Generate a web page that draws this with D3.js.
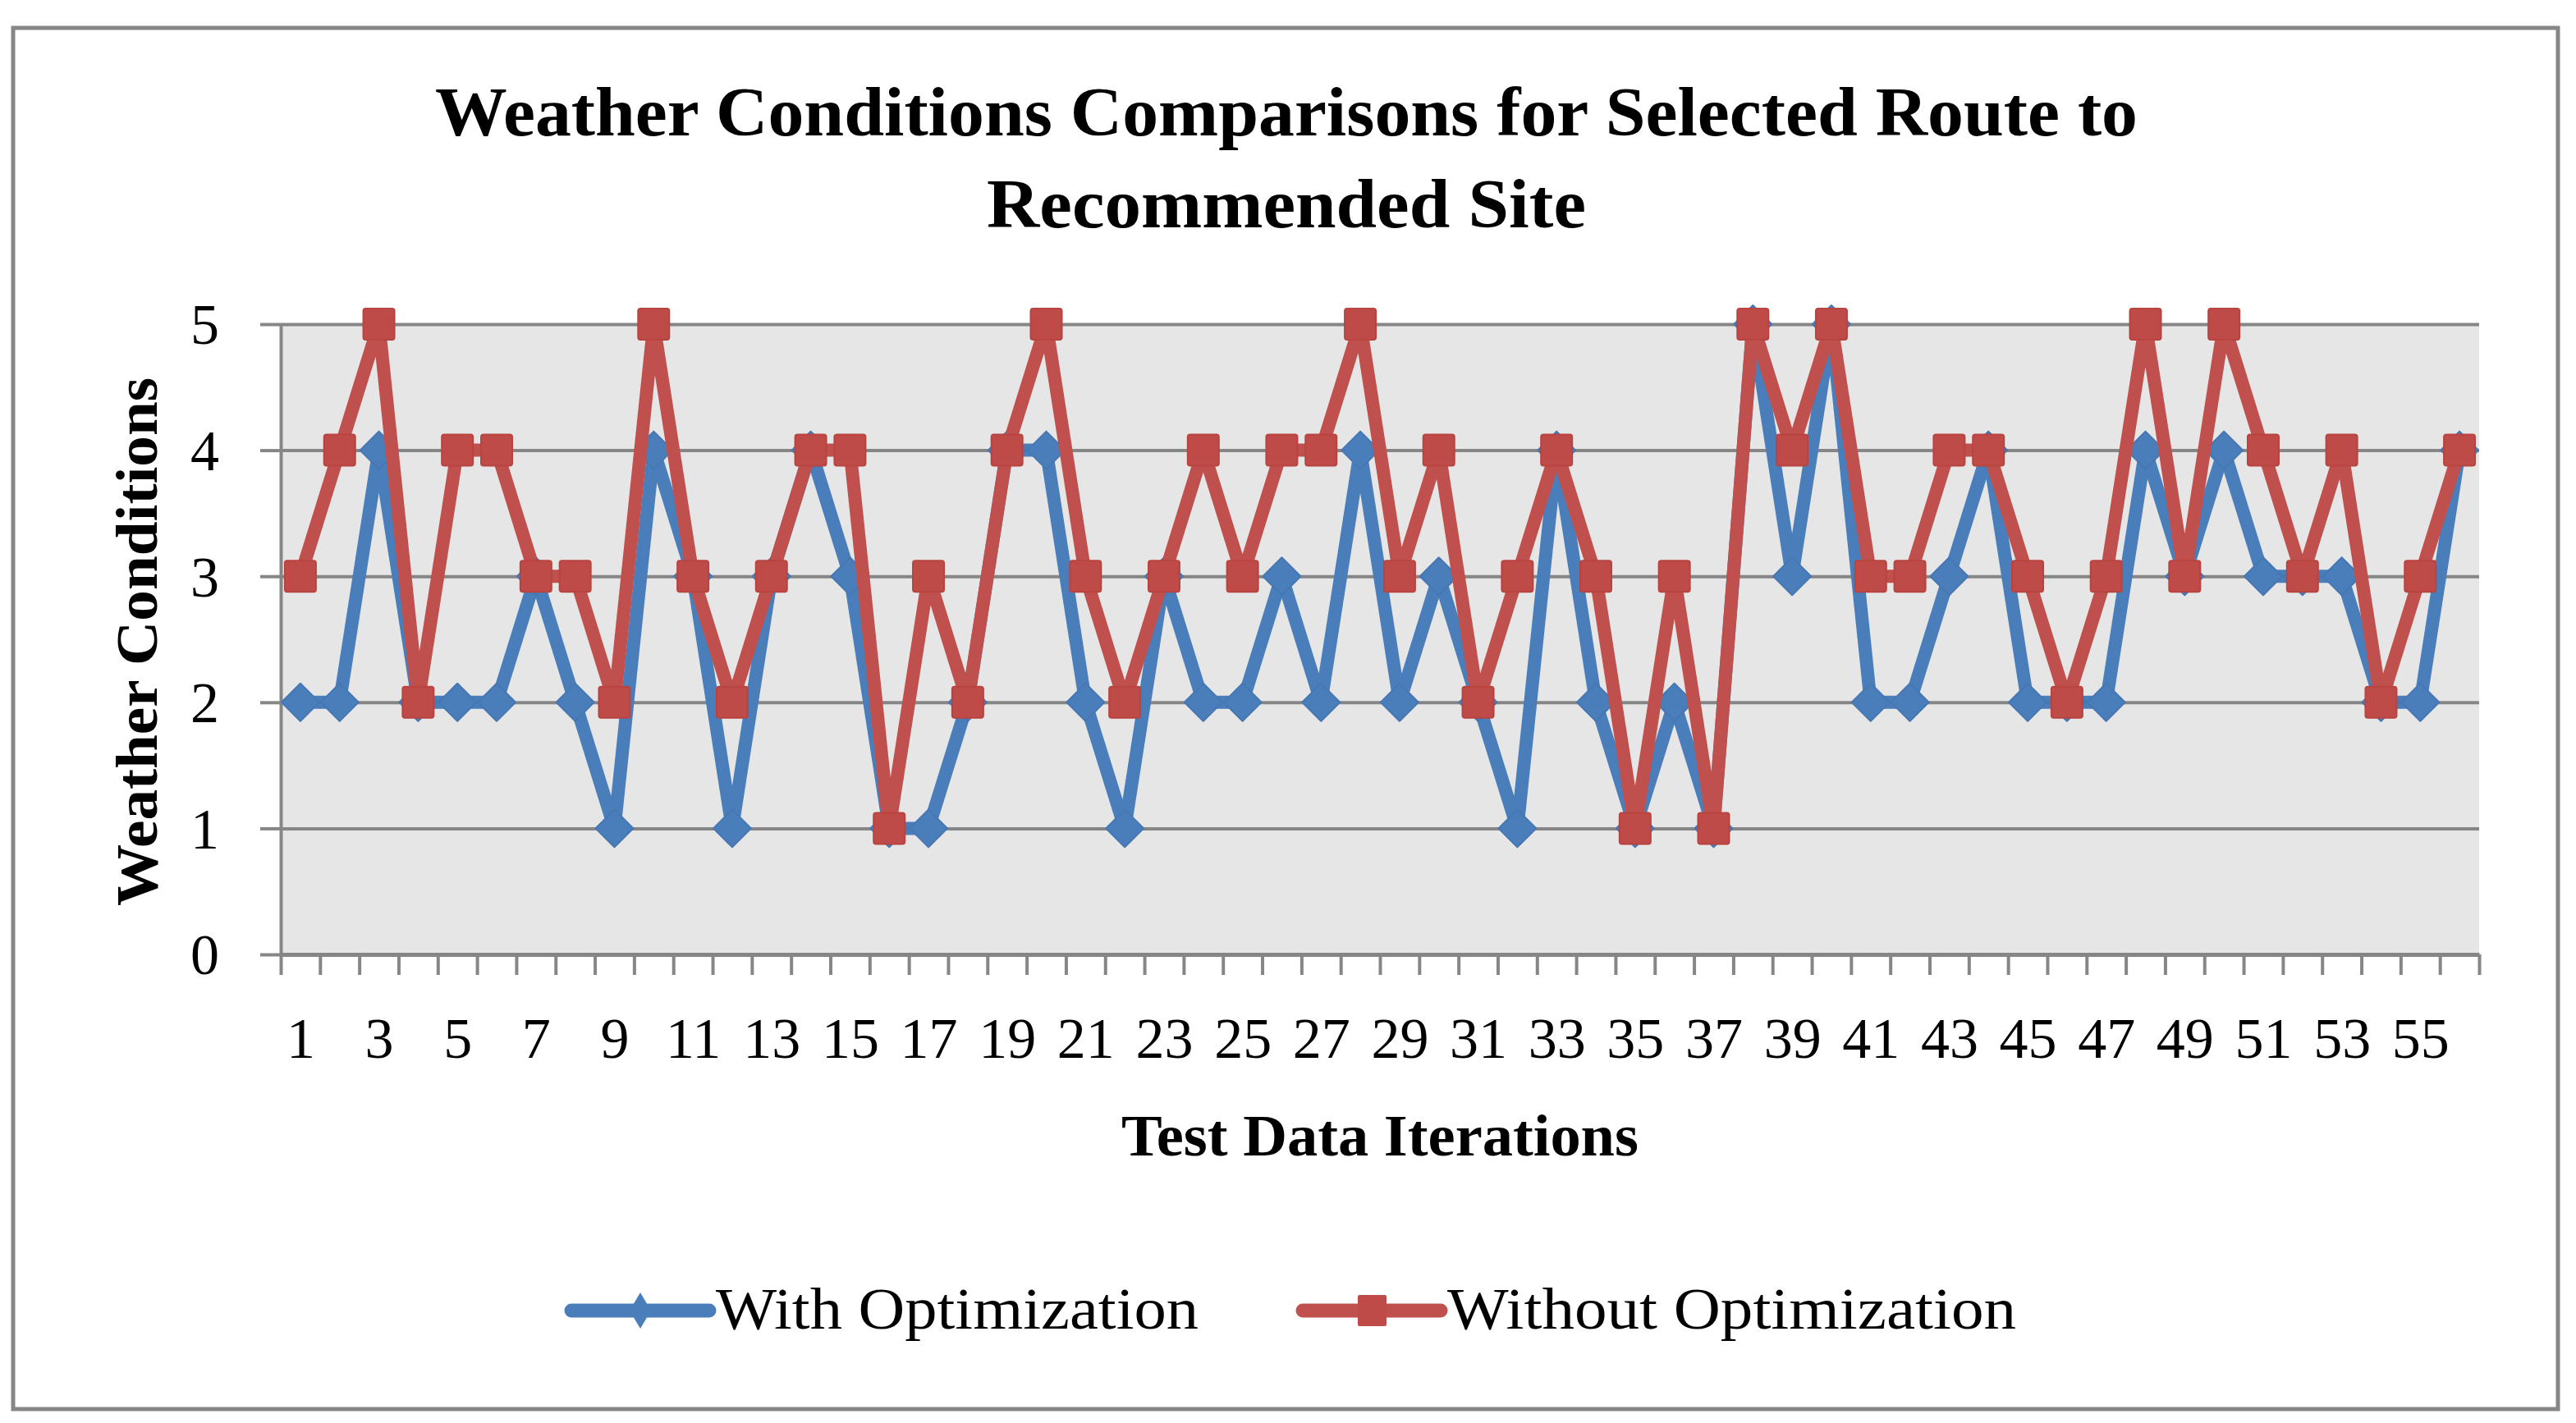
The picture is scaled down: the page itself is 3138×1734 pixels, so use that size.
<html>
<head>
	<title>Weather Conditions Comparisons</title>
	<style>
		body { margin: 0; background: #fff; }
		text { font-family: "Palatino Linotype", "Book Antiqua", Palatino, "Liberation Serif", serif; fill: #000; }
	</style>
</head>
<body>
<script src="https://cdn.jsdelivr.net/npm/d3@7/dist/d3.min.js"></script>
<div id="chart"></div>

<script>
	// data
	var iterations = d3.range(1, 57);
	var with_opt = [2,2,4,2,2,2,3,2,1,4,3,1,3,4,3,1,1,2,4,4,2,1,3,2,2,3,2,4,2,3,
		2,1,4,2,1,2,1,5,3,5,2,2,3,4,2,2,2,4,3,4,3,3,3,2,2,4];
	var without_opt = [3,4,5,2,4,4,3,3,2,5,3,2,3,4,4,1,3,2,4,5,3,2,3,4,3,4,4,5,3,4,
		2,3,4,3,1,3,1,5,4,5,3,3,4,4,3,2,3,5,3,5,4,3,4,2,3,4];
	var y_ticks = [0, 1, 2, 3, 4, 5];
	var x_labels = iterations.filter(function(d) { return d % 2 == 1; });
	var series_names = ["With Optimization", "Without Optimization"];

	var W = 3138, H = 1734;
	// plot area edges (top is reserved on window, so p_ names)
	var p_left = 342, p_right = 3020, p_top = 395, p_bottom = 1163;
	var grey = "#868686";
	var blue = "#4A7EBB", red = "#C0504D";

	var svg = d3.select("#chart").append("svg")
		.attr("width", W)
		.attr("height", H);

	// outer frame
	svg.append("rect")
		.attr("x", 16).attr("y", 34)
		.attr("width", 3100).attr("height", 1683)
		.attr("fill", "#fff")
		.attr("stroke", grey)
		.attr("stroke-width", 5);

	var x = d3.scaleLinear().domain([0.5, 56.5]).range([p_left, p_right]);
	var y = d3.scaleLinear().domain([0, 5]).range([p_bottom, p_top]);

	// plot background
	svg.append("rect")
		.attr("x", p_left).attr("y", p_top)
		.attr("width", p_right - p_left).attr("height", p_bottom - p_top)
		.attr("fill", "#E6E6E6");

	// gridlines
	svg.append("g")
		.attr("transform", "translate(" + p_left + ",0)")
		.call(d3.axisLeft(y).tickValues(y_ticks.slice(1)).tickSize(-(p_right - p_left)).tickFormat(""))
		.call(function(g) { g.select(".domain").remove(); })
		.selectAll("line")
		.attr("stroke", grey)
		.attr("stroke-width", 4);

	// y axis
	var y_axis = svg.append("g")
		.attr("transform", "translate(" + p_left + ",0)")
		.call(d3.axisLeft(y).tickValues(y_ticks).tickSize(25).tickSizeOuter(0).tickPadding(50).tickFormat(d3.format("d")));
	y_axis.attr("font-family", null);
	y_axis.select(".domain").attr("stroke", grey).attr("stroke-width", 4);
	y_axis.selectAll("line").attr("stroke", grey).attr("stroke-width", 4);
	y_axis.selectAll("text")
		.attr("font-size", "70px")
		.attr("dy", "0.34em");

	// x axis: tick marks between categories
	var bounds = d3.range(0, 57).map(function(k) { return k + 0.5; });
	var x_axis = svg.append("g")
		.attr("transform", "translate(0," + p_bottom + ")")
		.call(d3.axisBottom(x).tickValues(bounds).tickSize(25).tickSizeOuter(0).tickFormat(""));
	x_axis.select(".domain").attr("stroke", grey).attr("stroke-width", 5);
	x_axis.selectAll("line").attr("stroke", grey).attr("stroke-width", 4);

	// x labels on the odd iterations
	var x_lab = svg.append("g")
		.attr("transform", "translate(0," + p_bottom + ")")
		.call(d3.axisBottom(x).tickValues(x_labels).tickSize(0).tickPadding(0).tickFormat(d3.format("d")));
	x_lab.attr("font-family", null);
	x_lab.select(".domain").remove();
	x_lab.selectAll("text")
		.attr("font-size", "70px")
		.attr("y", 126)
		.attr("dy", 0);

	// series
	var line_gen = d3.line()
		.x(function(d, i) { return x(iterations[i]); })
		.y(function(d) { return y(d); });

	svg.append("path")
		.datum(with_opt)
		.attr("d", line_gen)
		.attr("fill", "none")
		.attr("stroke", blue)
		.attr("stroke-width", 16)
		.attr("stroke-linejoin", "round")
		.attr("stroke-linecap", "round");

	svg.selectAll(".diamond")
		.data(with_opt)
		.enter()
		.append("path")
		.attr("class", "diamond")
		.attr("d", "M0,-23L23,0L0,23L-23,0Z")
		.attr("transform", function(d, i) { return "translate(" + x(iterations[i]) + "," + y(d) + ")"; })
		.attr("fill", blue)
		.attr("stroke", "#4677B3")
		.attr("stroke-width", 2)
		.attr("stroke-linejoin", "round");

	svg.append("path")
		.datum(without_opt)
		.attr("d", line_gen)
		.attr("fill", "none")
		.attr("stroke", red)
		.attr("stroke-width", 16)
		.attr("stroke-linejoin", "round")
		.attr("stroke-linecap", "round");

	svg.selectAll(".square")
		.data(without_opt)
		.enter()
		.append("rect")
		.attr("class", "square")
		.attr("x", function(d, i) { return x(iterations[i]) - 19; })
		.attr("y", function(d) { return y(d) - 19; })
		.attr("width", 38)
		.attr("height", 38)
		.attr("rx", 3)
		.attr("fill", "#BE4B48")
		.attr("stroke", "#B8433F")
		.attr("stroke-width", 2);

	// titles
	svg.append("text")
		.attr("x", 1567).attr("y", 165)
		.attr("text-anchor", "middle")
		.attr("font-size", "84px")
		.attr("font-weight", "bold")
		.attr("textLength", 2074)
		.attr("lengthAdjust", "spacingAndGlyphs")
		.text("Weather Conditions Comparisons for Selected Route to");

	svg.append("text")
		.attr("x", 1567).attr("y", 277)
		.attr("text-anchor", "middle")
		.attr("font-size", "84px")
		.attr("font-weight", "bold")
		.attr("textLength", 730)
		.attr("lengthAdjust", "spacingAndGlyphs")
		.text("Recommended Site");

	svg.append("text")
		.attr("x", (p_left + p_right) / 2).attr("y", 1408)
		.attr("text-anchor", "middle")
		.attr("font-size", "72px")
		.attr("font-weight", "bold")
		.attr("textLength", 630)
		.attr("lengthAdjust", "spacingAndGlyphs")
		.text("Test Data Iterations");

	svg.append("text")
		.attr("transform", "translate(191,782) rotate(-90)")
		.attr("text-anchor", "middle")
		.attr("font-size", "72px")
		.attr("font-weight", "bold")
		.attr("textLength", 644)
		.attr("lengthAdjust", "spacingAndGlyphs")
		.text("Weather Conditions");

	// legend
	var legend = svg.append("g").attr("class", "legend");
	var leg_x = [696, 1587];
	var leg_len = [588, 693];

	legend.selectAll(".leg-line")
		.data(series_names)
		.enter()
		.append("line")
		.attr("x1", function(d, i) { return leg_x[i]; })
		.attr("x2", function(d, i) { return leg_x[i] + 168; })
		.attr("y1", 1597).attr("y2", 1597)
		.attr("stroke", function(d, i) { return i == 0 ? blue : red; })
		.attr("stroke-width", 17)
		.attr("stroke-linecap", "round");

	legend.append("path")
		.attr("d", "M0,-22L13,0L0,22L-13,0Z")
		.attr("transform", "translate(" + (leg_x[0] + 84) + ",1597)")
		.attr("fill", blue);

	legend.append("rect")
		.attr("x", leg_x[1] + 67).attr("y", 1578)
		.attr("width", 35).attr("height", 38)
		.attr("rx", 2)
		.attr("fill", "#BE4B48");

	legend.selectAll(".leg-text")
		.data(series_names)
		.enter()
		.append("text")
		.attr("x", function(d, i) { return leg_x[i] + 176; })
		.attr("y", 1619)
		.attr("font-size", "72px")
		.attr("textLength", function(d, i) { return leg_len[i]; })
		.attr("lengthAdjust", "spacingAndGlyphs")
		.text(function(d) { return d; });
</script>
</body>
</html>
